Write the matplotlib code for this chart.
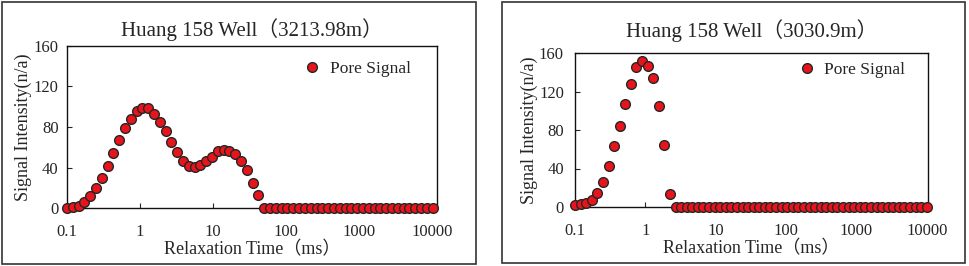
import matplotlib.pyplot as plt
from matplotlib.patches import Rectangle

plt.rcParams['font.family'] = ['Liberation Serif', 'Noto Sans CJK SC']

# relaxation time grid (ms), 64 log-spaced points
t2 = [0.1, 0.1201, 0.1442, 0.1731, 0.2078, 0.2495, 0.2995, 0.3594, 0.4315, 0.5180,
      0.6219, 0.7466, 0.8963, 1.076, 1.292, 1.551, 1.862, 2.235, 2.683, 3.221,
      3.867, 4.642, 5.573, 6.691, 8.033, 9.641, 11.58, 13.90, 16.68, 20.03,
      24.05, 28.87, 34.66, 41.61, 49.95, 59.95, 71.97, 86.41, 103.7, 124.5,
      149.5, 179.5, 215.4, 258.7, 310.5, 372.8, 447.5, 537.3, 645.1, 774.3,
      929.4, 1116, 1340, 1608, 1931, 2318, 2783, 3341, 4011, 4815,
      5780, 6939, 8331, 10000]

signal_3213 = [0, 1, 1.5, 6, 12, 20, 30, 41.5, 54, 67,
               79, 88, 96, 98.5, 98.5, 92.5, 85, 76, 65.5, 55,
               46, 41.5, 40.8, 42.5, 46.7, 50.7, 56, 57, 56.6, 53,
               46.4, 37.5, 25, 13] + [0] * 30

signal_3030 = [2, 2.8, 3.8, 7.3, 15, 26, 43, 63.4, 84.5, 107,
               128, 145, 152, 147, 133.7, 105, 64.4, 14] + [0] * 46

titles = ['Huang 158 Well（3213.98m）', 'Huang 158 Well（3030.9m）']
xticks = [0.1, 1, 10, 100, 1000, 10000]
xticklabels = ['0.1', '1', '10', '100', '1000', '10000']
yticks = [0, 40, 80, 120, 160]

fig = plt.figure(figsize=(9.69, 2.66), dpi=100)
W, H = 969, 266

def px_axes(l, t, r, b):
    return fig.add_axes([l / W, (H - b) / H, (r - l) / W, (b - t) / H])

axes = [px_axes(67, 46, 437, 208), px_axes(575, 53, 928, 207)]
series = [signal_3213, signal_3030]
xmax = [11500, 10400]
title_pad = [7, 11.5]
ytick_pad = [6, 8]
ylabel_pad = [1, 1]
leg_anchor = [(0.64, 0.858), (0.632, 0.89)]

txt = '#262626'
for i, ax in enumerate(axes):
    ax.plot(t2, series[i], 'o', ms=7, mfc='#e8141c', mec='#262626', mew=1.0,
            clip_on=False, label='Pore Signal', zorder=3)
    ax.set_xscale('log')
    ax.set_xlim(0.1, xmax[i])
    ax.set_ylim(0, 160)
    ax.set_xticks(xticks)
    ax.set_xticklabels(xticklabels)
    ax.minorticks_off()
    ax.set_yticks(yticks)
    ax.tick_params(axis='x', direction='in', length=3.5, pad=11.5, labelsize=12, colors=txt)
    ax.tick_params(axis='y', direction='in', length=3.5, pad=ytick_pad[i], labelsize=12, colors=txt)
    for s in ax.spines.values():
        s.set_linewidth(1.0)
        s.set_color('#111111')
    ax.set_title(titles[i], fontsize=15, pad=title_pad[i], color=txt)
    ax.set_xlabel('Relaxation Time（ms）', fontsize=13, labelpad=1, color=txt)
    ax.set_ylabel('Signal Intensity(n/a)', fontsize=13, labelpad=ylabel_pad[i], color=txt)
    ax.legend(loc='center left', bbox_to_anchor=leg_anchor[i], frameon=False,
              fontsize=12.5, handlelength=1, handletextpad=0.5, borderpad=0,
              borderaxespad=0, numpoints=1, labelcolor=txt)

# panel frames
fig.add_artist(Rectangle((2 / W, 2 / H), 474 / W, 262 / H, transform=fig.transFigure,
                         fill=False, lw=1.2, ec='#333333'))
fig.add_artist(Rectangle((502 / W, 3 / H), 463 / W, 261 / H, transform=fig.transFigure,
                         fill=False, lw=1.2, ec='#333333'))

fig.savefig('out.png', dpi=100)
